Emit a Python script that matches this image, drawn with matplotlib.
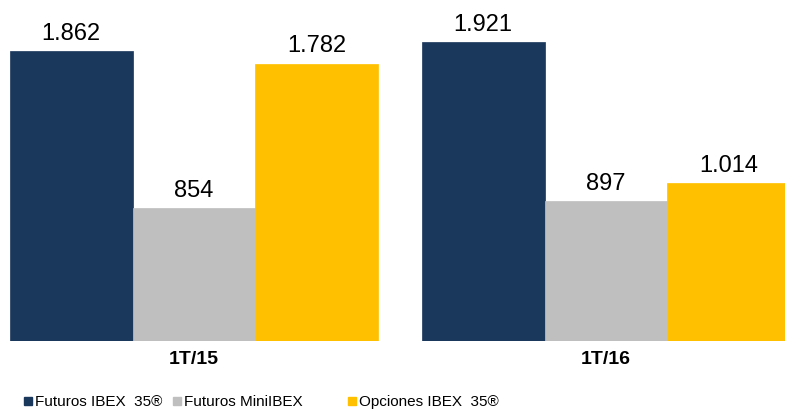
import matplotlib.pyplot as plt
from matplotlib.patches import Rectangle

periods = ["1T/15", "1T/16"]
series_names = ["Futuros IBEX  35®", "Futuros MiniIBEX", "Opciones IBEX  35®"]
futuros_ibex = [1862, 1921]
futuros_mini = [854, 897]
opciones_ibex = [1782, 1014]
colors = ["#1a375c", "#bfbfbf", "#ffc000"]

plt.rcParams["font.family"] = ["Liberation Sans", "DejaVu Sans"]


def fmt(v):
    return f"{v:,}".replace(",", ".")


fig = plt.figure(figsize=(7.85, 4.15), dpi=100)
ax = fig.add_axes([0, (415 - 341) / 415, 1, 341 / 415])

width = 0.2985
values = [futuros_ibex, futuros_mini, opciones_ibex]
for i, vals in enumerate(values):
    xs = [g + (i - 1) * width for g in range(len(periods))]
    bars = ax.bar(xs, vals, width=width, color=colors[i], edgecolor=colors[i], linewidth=0.5)
    for b, v in zip(bars, vals):
        ax.annotate(fmt(v), (b.get_x() + b.get_width() / 2, v), xytext=(0, 4.5),
                    textcoords="offset points", ha="center", va="bottom", fontsize=17)

ax.set_xlim(-194 / 412, (785 - 194) / 412)
ax.set_ylim(0, 341 / 0.1557)
ax.axis("off")

for g, p in enumerate(periods):
    ax.annotate(p, (g, 0), xytext=(0, -13), textcoords="offset points",
                ha="center", va="center", fontsize=14, fontweight="bold")

# legend
leg_x = [24, 173, 348]
for x, name, c in zip(leg_x, series_names, colors):
    fig.patches.append(Rectangle((x / 785, (415 - 405) / 415), 8 / 785, 8 / 415,
                                 transform=fig.transFigure, color=c))
    fig.text((x + 11) / 785, (415 - 402) / 415, name, fontsize=11,
             ha="left", va="center")

fig.savefig("out.png", dpi=100)
